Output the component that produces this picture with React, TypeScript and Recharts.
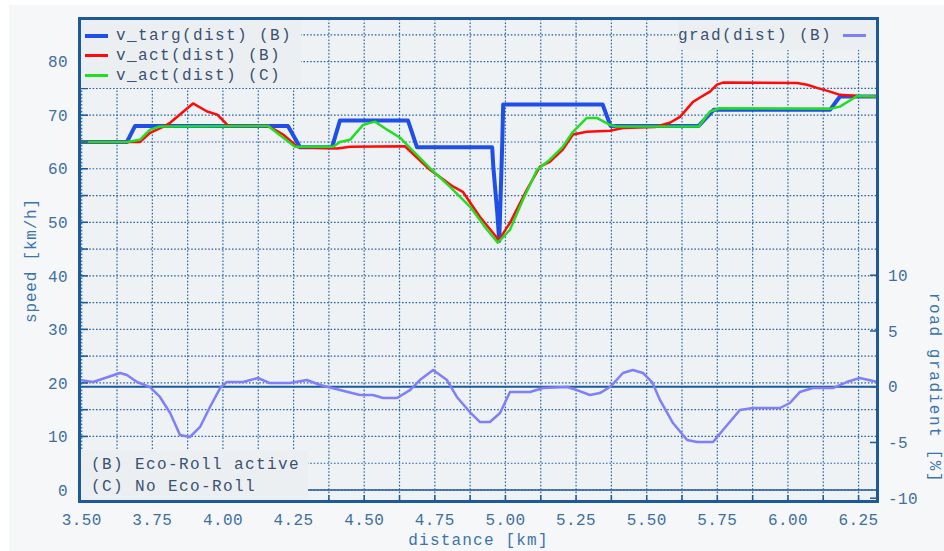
import React from 'react';
import { ComposedChart, Line, XAxis, YAxis, CartesianGrid, ReferenceLine, Label } from 'recharts';

// v_targ(dist) (B)
const targDist = [3.49, 3.66, 3.689, 4.23, 4.273, 4.386, 4.414, 4.655, 4.687, 4.953, 4.957, 4.971, 4.978, 4.989, 4.992, 5.344, 5.372, 5.684, 5.737, 6.149, 6.184, 6.32];
const targSpeed = [65, 65, 68, 68, 64, 64, 69, 69, 64, 64, 60.4, 51.8, 46.5, 65.4, 72, 72, 68, 68, 71, 71, 73.5, 73.5];

// v_act(dist) (B) – with Eco-Roll
const actBDist = [3.49, 3.706, 3.742, 3.795, 3.813, 3.894, 3.944, 3.98, 4.019, 4.16, 4.213, 4.266, 4.404, 4.45, 4.644, 4.733, 4.814, 4.849, 4.91, 4.97, 4.973, 5.016, 5.076, 5.122, 5.157, 5.203, 5.239, 5.288, 5.37, 5.416, 5.529, 5.582, 5.618, 5.664, 5.689, 5.724, 5.749, 5.77, 6.032, 6.068, 6.103, 6.149, 6.184, 6.245, 6.32];
const actBSpeed = [65, 65, 66.7, 68, 68.6, 72.2, 70.7, 70.1, 68, 68, 66.4, 64, 63.8, 64.1, 64.2, 59.8, 56.7, 55.7, 51, 47.1, 46.4, 49.9, 56.1, 60.4, 61.3, 63.6, 66.4, 66.9, 67.1, 67.6, 67.8, 68.6, 69.7, 72.5, 73.3, 74.4, 75.7, 76.1, 76, 75.7, 75.1, 74.4, 73.8, 73.6, 73.5];

// v_act(dist) (C) – without Eco-Roll
const actCDist = [3.49, 3.66, 3.706, 3.742, 3.777, 4.16, 4.255, 4.39, 4.414, 4.45, 4.496, 4.538, 4.581, 4.627, 4.662, 4.733, 4.804, 4.875, 4.935, 4.973, 5.016, 5.062, 5.112, 5.157, 5.203, 5.239, 5.288, 5.323, 5.37, 5.392, 5.684, 5.724, 5.759, 6.149, 6.184, 6.245, 6.32];
const actCSpeed = [65, 65, 65.4, 67.3, 67.9, 68, 64.1, 64.1, 65, 65.4, 68.2, 68.8, 67.3, 65.8, 63.9, 60.1, 56.6, 52.9, 48.6, 46.2, 48.6, 54.2, 59.8, 61.7, 64.1, 66.9, 69.5, 69.5, 68.2, 67.9, 67.9, 70.7, 71.3, 71.2, 71.6, 73.6, 73.5];

// grad(dist) (B), road gradient in %
const gradDist = [3.494, 3.54, 3.636, 3.66, 3.696, 3.742, 3.777, 3.813, 3.848, 3.883, 3.919, 3.954, 3.99, 4.014, 4.071, 4.124, 4.166, 4.237, 4.297, 4.344, 4.414, 4.485, 4.531, 4.567, 4.616, 4.662, 4.697, 4.744, 4.793, 4.828, 4.874, 4.91, 4.945, 4.981, 5.016, 5.087, 5.133, 5.218, 5.253, 5.299, 5.334, 5.37, 5.416, 5.451, 5.487, 5.519, 5.547, 5.593, 5.643, 5.678, 5.735, 5.77, 5.83, 5.876, 5.972, 6.007, 6.042, 6.088, 6.159, 6.208, 6.254, 6.318];
const gradPct = [0.6, 0.42, 1.23, 1.05, 0.42, -0.03, -0.92, -2.36, -4.33, -4.51, -3.61, -1.82, -0.12, 0.42, 0.42, 0.78, 0.33, 0.33, 0.6, 0.15, -0.3, -0.74, -0.74, -1.01, -1.01, -0.3, 0.6, 1.5, 0.6, -0.92, -2.27, -3.17, -3.17, -2.36, -0.48, -0.48, -0.12, -0.03, -0.3, -0.74, -0.57, -0.03, 1.23, 1.5, 1.23, 0.42, -1.19, -3.26, -4.78, -4.96, -4.96, -3.88, -2.09, -1.91, -1.91, -1.46, -0.48, -0.12, -0.12, 0.42, 0.78, 0.42];

const distTicks = [3.5, 3.625, 3.75, 3.875, 4, 4.125, 4.25, 4.375, 4.5, 4.625, 4.75, 4.875, 5, 5.125, 5.25, 5.375, 5.5, 5.625, 5.75, 5.875, 6, 6.125, 6.25];
const speedTicks = [0, 5, 10, 15, 20, 25, 30, 35, 40, 45, 50, 55, 60, 65, 70, 75, 80, 85];
const gradTicks = [-10, -5, 0, 5, 10];

const toRows = (xs: number[], ys: number[], key: string) => xs.map((d, i) => ({ dist: d, [key]: ys[i] }));

const targRows = toRows(targDist, targSpeed, 'v');
const actBRows = toRows(actBDist, actBSpeed, 'v');
const actCRows = toRows(actCDist, actCSpeed, 'v');
const gradRows = toRows(gradDist, gradPct, 'g');

const FONT = '"Liberation Mono", "DejaVu Sans Mono", monospace';
const FRAME = '#1d5a97';
const TICK = '#3f6f9f';
const TITLE = '#3b74ad';
const TEXT = '#3a5272';

const tickStyle = { fontFamily: FONT, fontSize: 16, fill: TICK, letterSpacing: 0.4 };
// short tick marks pointing into the plot
const innerTick = { stroke: FRAME, strokeWidth: 1.5 };

const isQuarter = (v: number) => Math.abs(v * 4 - Math.round(v * 4)) < 1e-6;

const SpeedTitle = (props: any) => {
  const { x, y, height } = props.viewBox;
  const cx = x + 24;
  const cy = y + height / 2;
  return (
    <text x={cx} y={cy} transform={`rotate(-90, ${cx}, ${cy})`} textAnchor="middle" dominantBaseline="central"
      fontFamily={FONT} fontSize={16} fill={TITLE} letterSpacing={0.8}>
      speed [km/h]
    </text>
  );
};

const GradTitle = (props: any) => {
  const { x, y } = props.viewBox;
  const cx = x + 56;
  const cy = y + 369;
  return (
    <text x={cx} y={cy} transform={`rotate(90, ${cx}, ${cy})`} textAnchor="middle" dominantBaseline="central"
      fontFamily={FONT} fontSize={16} fill={TITLE} letterSpacing={1.6}>
      road gradient [%]
    </text>
  );
};

const DistTitle = (props: any) => {
  const { x, y, width } = props.viewBox;
  return (
    <text x={x + width / 2} y={y + 39} textAnchor="middle" dominantBaseline="central"
      fontFamily={FONT} fontSize={16} fill={TITLE} letterSpacing={1.2}>
      distance [km]
    </text>
  );
};

const legendText: React.CSSProperties = {
  fontFamily: FONT,
  fontSize: 16,
  letterSpacing: 1.4,
  color: TEXT,
  whiteSpace: 'pre',
  lineHeight: '20px',
};

const Swatch = ({ color, width }: { color: string; width: number }) => (
  <span style={{ display: 'inline-block', width: 23, height: width, background: color, marginRight: 8, verticalAlign: 'middle' }} />
);

export default function App() {
  return (
    <div style={{ position: 'absolute', left: 0, top: 0, width: 944, height: 551, background: '#ffffff', overflow: 'hidden' }}>
      <div style={{ position: 'absolute', left: 9, top: 5, right: 0, bottom: 0, background: '#f6f7f8' }} />
      <div style={{ position: 'absolute', left: 0, top: 0 }}>
        <ComposedChart width={944} height={551} margin={{ top: 19, right: 8, bottom: 9, left: 8 }}>
          <CartesianGrid yAxisId="left" fill="#eef2f5" stroke="#2b65a2" strokeDasharray="1.6 1.8" strokeWidth={1.2} />
          <XAxis dataKey="dist" type="number" domain={[3.4904, 6.3188]} allowDataOverflow ticks={distTicks} interval={0}
            tickFormatter={(v: number) => (isQuarter(v) ? v.toFixed(2) : '')} tick={tickStyle} tickLine={innerTick}
            axisLine={false} tickSize={-7} tickMargin={19} height={40}>
            <Label content={DistTitle} />
          </XAxis>
          <YAxis yAxisId="left" domain={[-2.24, 87.97]} allowDataOverflow ticks={speedTicks} interval={0}
            tickFormatter={(v: number) => (v % 10 === 0 && v <= 80 ? String(v) : '')} tick={tickStyle} tickLine={innerTick}
            axisLine={false} tickSize={-9} tickMargin={20} width={71}>
            <Label content={SpeedTitle} />
          </YAxis>
          <YAxis yAxisId="right" orientation="right" domain={[-10.34, 32.98]} allowDataOverflow ticks={gradTicks} interval={0}
            tick={tickStyle} tickLine={innerTick} axisLine={false} tickSize={-8} tickMargin={18} width={58}>
            <Label content={GradTitle} />
          </YAxis>
          <ReferenceLine yAxisId="left" y={0} stroke={FRAME} strokeWidth={1.5} />
          <ReferenceLine yAxisId="right" y={0} stroke={FRAME} strokeWidth={2} />
          <Line yAxisId="left" data={targRows} dataKey="v" type="linear" stroke="#1f4fe6" strokeWidth={4} dot={false}
            strokeLinejoin="round" isAnimationActive={false} name="v_targ(dist) (B)" />
          <Line yAxisId="left" data={actBRows} dataKey="v" type="linear" stroke="#ff0a0a" strokeWidth={2.5} dot={false}
            strokeLinejoin="round" isAnimationActive={false} name="v_act(dist) (B)" />
          <Line yAxisId="left" data={actCRows} dataKey="v" type="linear" stroke="#22dd22" strokeWidth={2.5} dot={false}
            strokeLinejoin="round" isAnimationActive={false} name="v_act(dist) (C)" />
          <Line yAxisId="right" data={gradRows} dataKey="g" type="linear" stroke="#7f7ff7" strokeWidth={2.5} dot={false}
            strokeLinejoin="round" isAnimationActive={false} name="grad(dist) (B)" />
        </ComposedChart>
      </div>

      {/* speed legend, top left */}
      <div style={{ position: 'absolute', left: 81, top: 20, width: 220, height: 68, background: '#eceff1', paddingTop: 6, boxSizing: 'border-box' }}>
        <div style={legendText}><span style={{ marginLeft: 4 }} /><Swatch color="#1f4fe6" width={4} />v_targ(dist) (B)</div>
        <div style={legendText}><span style={{ marginLeft: 4 }} /><Swatch color="#ff0a0a" width={3} />v_act(dist) (B)</div>
        <div style={legendText}><span style={{ marginLeft: 4 }} /><Swatch color="#22dd22" width={3} />v_act(dist) (C)</div>
      </div>

      {/* gradient legend, top right */}
      <div style={{ position: 'absolute', left: 678, top: 20, width: 198, height: 30, background: '#eceff1', paddingTop: 6, boxSizing: 'border-box' }}>
        <div style={{ ...legendText, textAlign: 'right', paddingRight: 4 }}>grad(dist) (B) <Swatch color="#7f7ff7" width={3} /></div>
      </div>

      {/* scenario notes, bottom left */}
      <div style={{ position: 'absolute', left: 81, top: 450, width: 227, height: 50, background: '#eceff1', paddingTop: 3, paddingLeft: 10, boxSizing: 'border-box' }}>
        <div style={{ ...legendText, lineHeight: '25px' }}>(B) Eco-Roll active</div>
        <div style={{ ...legendText, lineHeight: '25px', marginTop: -3 }}>(C) No Eco-Roll</div>
      </div>

      {/* plot frame */}
      <div style={{ position: 'absolute', left: 78, top: 17, width: 801, height: 486, border: `3px solid ${FRAME}`, boxSizing: 'border-box' }} />
    </div>
  );
}
